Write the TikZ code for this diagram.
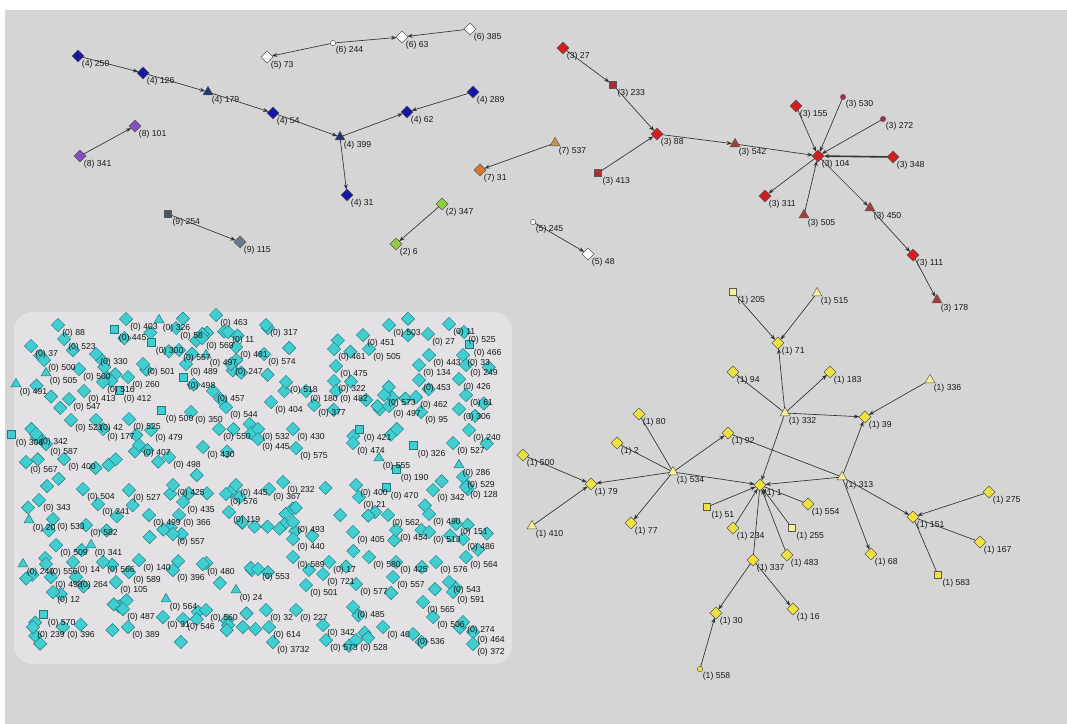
\documentclass[tikz,border=0pt]{standalone}
\usepackage{fontspec}
\setmainfont{Liberation Sans}
\usetikzlibrary{shapes.geometric,arrows.meta}

\definecolor{bgwhite}{RGB}{255,255,255}
\definecolor{bggray}{RGB}{213,213,213}
\definecolor{haze}{RGB}{228,225,228}
\definecolor{cyfill}{RGB}{64,206,208}
\definecolor{cyline}{RGB}{30,120,130}
\definecolor{blueD}{RGB}{22,22,165}
\definecolor{blueT}{RGB}{32,52,112}
\definecolor{purp}{RGB}{135,75,195}
\definecolor{slateS}{RGB}{70,88,110}
\definecolor{slateD}{RGB}{105,122,140}
\definecolor{greenN}{RGB}{145,205,65}
\definecolor{orangeD}{RGB}{212,120,50}
\definecolor{orangeT}{RGB}{200,145,85}
\definecolor{redD}{RGB}{212,30,30}
\definecolor{redS}{RGB}{182,40,52}
\definecolor{redT}{RGB}{162,62,62}
\definecolor{redC}{RGB}{170,40,72}
\definecolor{yelD}{RGB}{240,226,62}
\definecolor{yelP}{RGB}{246,240,150}

% isolated nodes of component 0: label position x/y, number, shape (d, s, t)
\def\cyanlist{
  62/333/88/d, 68/347/523/d, 35/354/37/d, 118/337/445/s, 130/327/403/d,
  163/328/326/t, 220/323/463/d, 180/336/58/d, 206/346/569/d, 232/340/11/d,
  270/333/317/d, 155/350/300/s, 183/358/557/d, 268/362/574/d, 100/362/330/d,
  48/368/500/d, 147/372/501/d, 210/363/497/t, 240/355/481/d, 83/377/500/d,
  190/372/489/d, 235/372/247/d, 50/381/505/t, 107/390/516/d, 132/385/260/d,
  20/392/491/t, 88/399/413/d, 123/398/412/s, 187/385/498/s, 217/399/457/d,
  73/407/547/d, 165/418/500/s, 195/420/350/d, 230/415/544/d, 75/428/521/d,
  100/428/42/d, 133/427/525/d, 15/442/306/s, 40/442/342/d, 107/437/177/d,
  155/438/479/d, 223/437/550/d, 50/452/587/d, 143/453/407/d, 207/455/430/d,
  30/470/567/d, 68/467/400/d, 173/465/498/d, 43/508/343/d, 87/497/504/d,
  133/498/527/d, 177/493/425/d, 240/493/445/d, 230/502/576/d, 393/333/503/d,
  453/332/11/d, 468/340/525/d, 473/352/466/s, 367/343/451/d, 373/357/505/d,
  432/342/27/d, 433/363/443/d, 467/363/33/d, 338/357/461/d, 340/374/475/d,
  423/373/134/d, 470/373/249/d, 290/390/518/d, 338/389/322/d, 423/388/453/d,
  463/387/426/d, 310/399/180/d, 340/399/482/d, 388/403/573/d, 420/405/462/d,
  470/403/61/d, 275/410/404/d, 318/413/377/d, 393/414/497/d, 425/420/95/d,
  463/417/306/d, 262/437/532/d, 297/437/430/d, 363/437/421/s, 473/438/240/d,
  262/447/445/d, 300/456/575/d, 357/451/474/d, 417/453/326/s, 457/451/527/d,
  383/466/555/t, 400/477/190/s, 463/473/286/t, 467/485/529/d, 470/495/128/d,
  360/493/400/d, 390/495/470/s, 437/498/342/d, 273/497/367/d, 287/490/232/d,
  102/512/241/d, 187/510/435/d, 233/520/119/d, 33/528/20/t, 57/527/533/d,
  90/533/582/d, 153/523/499/d, 183/523/366/d, 60/553/509/d, 95/553/341/t,
  177/542/557/d, 27/572/240/t, 50/572/556/d, 77/570/14/d, 107/570/566/d,
  143/568/140/d, 207/572/480/d, 55/585/498/d, 80/585/264/d, 133/580/589/d,
  177/578/396/d, 120/590/105/d, 57/600/12/d, 170/607/564/t, 240/598/24/t,
  47/622/570/s, 127/617/487/d, 210/618/560/d, 167/625/31/d, 187/627/546/d,
  37/635/239/d, 67/635/396/d, 132/635/389/d, 363/505/21/d, 297/530/493/d,
  392/523/562/d, 433/522/490/d, 297/547/440/d, 357/540/405/d, 400/538/454/d,
  433/540/513/d, 460/532/151/d, 467/547/486/d, 297/565/589/d, 333/570/17/d,
  373/565/580/d, 400/570/425/d, 440/570/576/d, 470/565/564/d, 262/577/553/d,
  327/582/721/d, 360/592/577/d, 397/585/557/d, 310/593/501/d, 453/590/543/d,
  457/600/591/d, 427/610/565/d, 357/615/485/d, 270/618/32/d, 300/618/227/d,
  273/635/614/d, 327/633/342/d, 437/625/506/d, 467/630/274/d, 477/640/464/d,
  477/652/372/d, 277/650/3732/d, 330/648/573/d, 360/648/528/d, 417/642/536/d,
  387/635/40/d}

\begin{document}
\begin{tikzpicture}[x=0.75pt,y=-0.75pt,
  base/.style={draw=black!65, line width=0.35pt, inner sep=0pt, outer sep=0pt},
  dia/.style={base, diamond, minimum width=9pt, minimum height=9pt},
  tri/.style={base, regular polygon, regular polygon sides=3, minimum size=8.5pt},
  sqr/.style={base, rectangle, minimum size=5.5pt},
  dot/.style={base, circle, minimum size=4pt},
  cyd/.style={dia, fill=cyfill, draw=cyline, minimum width=10pt, minimum height=10pt},
  cys/.style={sqr, fill=cyfill, draw=cyline, minimum size=6pt},
  cyt/.style={tri, fill=cyfill, draw=cyline},
  lbl/.style={font=\fontsize{6.5}{7}\selectfont, inner sep=0.5pt, text=black!90},
  conn/.style={draw=black!80, line width=0.5pt},
  arr/.style={conn, -{Stealth[length=4pt,width=3pt]}},
]
% page and canvas
\useasboundingbox (0,0) rectangle (1067,724);
\fill[bgwhite] (0,0) rectangle (1067,724);
\fill[bggray] (5,10) rectangle (1067,724);

% ---------- component 4 (blue) ----------
\node[dia, fill=blueD, label={[lbl]below right:{(4) 250}}] (n4a) at (78,56) {};
\node[dia, fill=blueD, label={[lbl]below right:{(4) 126}}] (n4b) at (143,73) {};
\node[tri, fill=blueT, label={[lbl]below right:{(4) 179}}] (n4c) at (208,92) {};
\node[dia, fill=blueD, label={[lbl]below right:{(4) 54}}] (n4d) at (273,113) {};
\node[tri, fill=blueT, label={[lbl]below right:{(4) 399}}] (n4e) at (340,137) {};
\node[dia, fill=blueD, label={[lbl]below right:{(4) 31}}] (n4f) at (347,195) {};
\node[dia, fill=blueD, label={[lbl]below right:{(4) 62}}] (n4g) at (407,112) {};
\node[dia, fill=blueD, label={[lbl]below right:{(4) 289}}] (n4h) at (473,92) {};
\draw[arr] (n4a) -- (n4b);
\draw[arr] (n4b) -- (n4c);
\draw[arr] (n4c) -- (n4d);
\draw[arr] (n4d) -- (n4e);
\draw[arr] (n4e) -- (n4f);
\draw[arr] (n4e) -- (n4g);
\draw[arr] (n4h) -- (n4g);

% ---------- component 6 (white) ----------
\node[dia, fill=white, label={[lbl]below right:{(5) 73}}] (n6a) at (267,57) {};
\node[dot, fill=white, label={[lbl]below right:{(6) 244}}] (n6b) at (333,43) {};
\node[dia, fill=white, label={[lbl]below right:{(6) 63}}] (n6c) at (402,37) {};
\node[dia, fill=white, label={[lbl]below right:{(6) 385}}] (n6d) at (470,29) {};
\draw[arr] (n6b) -- (n6a);
\draw[arr] (n6b) -- (n6c);
\draw[arr] (n6d) -- (n6c);

% ---------- small pairs ----------
\node[dia, fill=purp, label={[lbl]below right:{(8) 101}}] (n8a) at (135,126) {};
\node[dia, fill=purp, label={[lbl]below right:{(8) 341}}] (n8b) at (80,156) {};
\draw[arr] (n8b) -- (n8a);

\node[sqr, fill=slateS, label={[lbl]below right:{(9) 254}}] (n9a) at (168,214) {};
\node[dia, fill=slateD, label={[lbl]below right:{(9) 115}}] (n9b) at (240,242) {};
\draw[arr] (n9a) -- (n9b);

\node[dia, fill=greenN, label={[lbl]below right:{(2) 347}}] (n2a) at (442,204) {};
\node[dia, fill=greenN, label={[lbl]below right:{(2) 6}}] (n2b) at (396,244) {};
\draw[arr] (n2a) -- (n2b);

\node[tri, fill=orangeT, label={[lbl]below right:{(7) 537}}] (n7a) at (555,143) {};
\node[dia, fill=orangeD, label={[lbl]below right:{(7) 31}}] (n7b) at (480,170) {};
\draw[arr] (n7a) -- (n7b);

\node[dot, fill=white, label={[lbl]below right:{(5) 245}}] (n5a) at (533,222) {};
\node[dia, fill=white, label={[lbl]below right:{(5) 48}}] (n5b) at (588,254) {};
\draw[arr] (n5a) -- (n5b);

% ---------- component 3 (red) ----------
\node[dia, fill=redD, label={[lbl]below right:{(3) 27}}] (r27) at (563,48) {};
\node[sqr, fill=redS, label={[lbl]below right:{(3) 233}}] (r233) at (613,85) {};
\node[dia, fill=redD, label={[lbl]below right:{(3) 88}}] (r88) at (657,134) {};
\node[sqr, fill=redS, label={[lbl]below right:{(3) 413}}] (r413) at (598,173) {};
\node[tri, fill=redT, label={[lbl]below right:{(3) 542}}] (r542) at (735,144) {};
\node[dia, fill=redD, label={[lbl]below right:{(3) 104}}] (r104) at (818,156) {};
\node[dia, fill=redD, label={[lbl]below right:{(3) 155}}] (r155) at (796,106) {};
\node[dot, fill=redC, label={[lbl]below right:{(3) 530}}] (r530) at (843,97) {};
\node[dot, fill=redC, label={[lbl]below right:{(3) 272}}] (r272) at (883,119) {};
\node[dia, fill=redD, label={[lbl]below right:{(3) 348}}] (r348) at (893,157) {};
\node[dia, fill=redD, label={[lbl]below right:{(3) 311}}] (r311) at (765,196) {};
\node[tri, fill=redT, label={[lbl]below right:{(3) 505}}] (r505) at (804,215) {};
\node[tri, fill=redT, label={[lbl]below right:{(3) 450}}] (r450) at (870,208) {};
\node[dia, fill=redD, label={[lbl]below right:{(3) 111}}] (r111) at (913,255) {};
\node[tri, fill=redT, label={[lbl]below right:{(3) 178}}] (r178) at (937,300) {};
\draw[arr] (r27) -- (r233);
\draw[arr] (r233) -- (r88);
\draw[arr] (r413) -- (r88);
\draw[arr] (r88) -- (r542);
\draw[arr] (r542) -- (r104);
\draw[arr] (r155) -- (r104);
\draw[arr] (r530) -- (r104);
\draw[arr] (r272) -- (r104);
\draw[arr, line width=1.2pt] (r348) -- (r104);
\draw[arr] (r104) -- (r311);
\draw[arr] (r505) -- (r104);
\draw[arr] (r104) -- (r450);
\draw[arr] (r450) -- (r111);
\draw[arr] (r111) -- (r178);

% ---------- component 1 (yellow) ----------
\node[sqr, fill=yelP, label={[lbl]below right:{(1) 205}}] (y205) at (733,292) {};
\node[tri, fill=yelP, label={[lbl]below right:{(1) 515}}] (y515) at (817,293) {};
\node[dia, fill=yelD, label={[lbl]below right:{(1) 71}}] (y71) at (778,343) {};
\node[dia, fill=yelD, label={[lbl]below right:{(1) 94}}] (y94) at (733,372) {};
\node[dia, fill=yelD, label={[lbl]below right:{(1) 183}}] (y183) at (830,372) {};
\node[tri, fill=yelP, label={[lbl]below right:{(1) 336}}] (y336) at (930,380) {};
\node[tri, fill=yelP, label={[lbl]below right:{(1) 332}}] (y332) at (785,413) {};
\node[dia, fill=yelD, label={[lbl]below right:{(1) 39}}] (y39) at (865,417) {};
\node[dia, fill=yelD, label={[lbl]below right:{(1) 80}}] (y80) at (639,414) {};
\node[dia, fill=yelD, label={[lbl]below right:{(1) 2}}] (y2) at (617,443) {};
\node[dia, fill=yelD, label={[lbl]below right:{(1) 92}}] (y92) at (728,433) {};
\node[dia, fill=yelD, label={[lbl]below right:{(1) 500}}] (y500) at (523,455) {};
\node[dia, fill=yelD, label={[lbl]below right:{(1) 79}}] (y79) at (591,484) {};
\node[tri, fill=yelP, label={[lbl]below right:{(1) 534}}] (y534) at (673,472) {};
\node[dia, fill=yelD, label={[lbl]below right:{(1) 1}}] (y1) at (760,485) {};
\node[tri, fill=yelP, label={[lbl]below right:{(1) 313}}] (y313) at (842,477) {};
\node[tri, fill=yelP, label={[lbl]below right:{(1) 410}}] (y410) at (532,526) {};
\node[dia, fill=yelD, label={[lbl]below right:{(1) 77}}] (y77) at (631,523) {};
\node[sqr, fill=yelD, label={[lbl]below right:{(1) 51}}] (y51) at (707,507) {};
\node[dia, fill=yelD, label={[lbl]below right:{(1) 234}}] (y234) at (733,528) {};
\node[dia, fill=yelD, label={[lbl]below right:{(1) 554}}] (y554) at (808,504) {};
\node[sqr, fill=yelP, label={[lbl]below right:{(1) 255}}] (y255) at (792,528) {};
\node[dia, fill=yelD, label={[lbl]below right:{(1) 483}}] (y483) at (787,555) {};
\node[dia, fill=yelD, label={[lbl]below right:{(1) 337}}] (y337) at (753,560) {};
\node[dia, fill=yelD, label={[lbl]below right:{(1) 151}}] (y151) at (913,517) {};
\node[dia, fill=yelD, label={[lbl]below right:{(1) 275}}] (y275) at (989,492) {};
\node[dia, fill=yelD, label={[lbl]below right:{(1) 167}}] (y167) at (980,542) {};
\node[sqr, fill=yelD, label={[lbl]below right:{(1) 583}}] (y583) at (938,575) {};
\node[dia, fill=yelD, label={[lbl]below right:{(1) 68}}] (y68) at (871,554) {};
\node[dia, fill=yelD, label={[lbl]below right:{(1) 30}}] (y30) at (716,613) {};
\node[dia, fill=yelD, label={[lbl]below right:{(1) 16}}] (y16) at (793,609) {};
\node[dot, fill=yelD, label={[lbl]below right:{(1) 558}}] (y558) at (700,669) {};
\draw[arr] (y205) -- (y71);
\draw[arr] (y515) -- (y71);
\draw[arr] (y332) -- (y71);
\draw[conn] (y94) -- (y332);
\draw[arr] (y332) -- (y183);
\draw[arr] (y332) -- (y39);
\draw[arr] (y336) -- (y39);
\draw[arr] (y313) -- (y39);
\draw[arr] (y332) -- (y1);
\draw[conn] (y92) -- (y313);
\draw[arr] (y534) -- (y92);
\draw[conn] (y80) -- (y534);
\draw[conn] (y2) -- (y534);
\draw[arr] (y534) -- (y79);
\draw[arr] (y500) -- (y79);
\draw[arr] (y410) -- (y79);
\draw[arr] (y534) -- (y77);
\draw[arr] (y534) -- (y1);
\draw[arr] (y313) -- (y1);
\draw[arr] (y51) -- (y1);
\draw[arr] (y234) -- (y1);
\draw[conn] (y554) -- (y1);
\draw[arr] (y255) -- (y1);
\draw[arr] (y483) -- (y1);
\draw[conn] (y337) -- (y1);
\draw[arr] (y313) -- (y68);
\draw[arr] (y313) -- (y151);
\draw[arr] (y275) -- (y151);
\draw[conn] (y167) -- (y151);
\draw[conn] (y583) -- (y151);
\draw[arr] (y337) -- (y30);
\draw[arr] (y337) -- (y16);
\draw[arr] (y558) -- (y30);

% ---------- component 0 (cyan, isolated nodes) ----------
\fill[haze, rounded corners=14pt] (14,312) rectangle (512,664);
\pgfmathsetseed{41}
\foreach \k in {1,...,150} {
  \pgfmathsetmacro\rx{22+482*rnd}
  \pgfmathsetmacro\ry{318+330*rnd}
  \node[cyd] (rc\k) at (\rx,\ry) {};
}
% shapes first, then their labels on top
\foreach \x/\y/\t/\s [count=\i] in \cyanlist {
  \node[cy\s] (c\i) at (\x-4,\y-8) {};
}
\foreach \x/\y/\t/\s [count=\i] in \cyanlist {
  \node[lbl, anchor=north west] (ct\i) at (c\i.south east) {(0) \t};
}
\end{tikzpicture}
\end{document}
